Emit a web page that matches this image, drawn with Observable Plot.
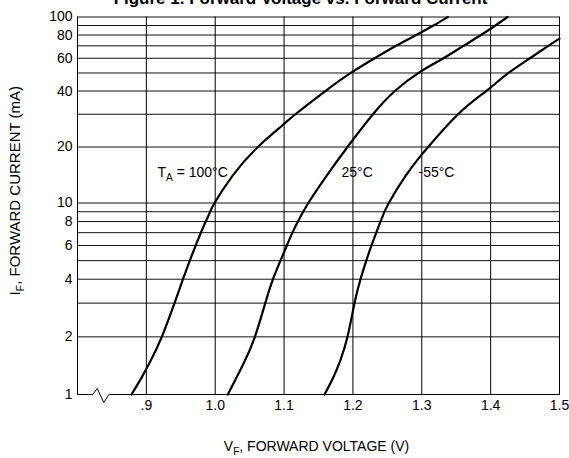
<!DOCTYPE html>
<html>
<head>
<meta charset="utf-8">
<script src="https://cdn.jsdelivr.net/npm/d3@7"></script>
<script src="https://cdn.jsdelivr.net/npm/@observablehq/plot@0.6"></script>
<style>
  html, body { margin: 0; padding: 0; background: #fff; }
  #chart { width: 569px; height: 458px; overflow: hidden; }
</style>
</head>
<body>
<div id="chart"></div>
<script>
const FONT = '"Liberation Sans", Arial, sans-serif';

// Axis ticks / labels
const xTicks = [0.9, 1.0, 1.1, 1.2, 1.3, 1.4, 1.5];
const xTickLabels = [".9", "1.0", "1.1", "1.2", "1.3", "1.4", "1.5"];
const yGrid = [2, 3, 4, 5, 6, 7, 8, 9, 10, 20, 30, 40, 50, 60, 70, 80, 90, 100];
const yTicks = [1, 2, 4, 6, 8, 10, 20, 40, 60, 80, 100];

// Series: forward current (mA) and forward voltage (V)
const i100 = [1, 1.2, 1.5, 2, 3, 4, 5, 6, 7, 8, 9, 10, 14, 20, 26.1, 30, 40, 50.5, 60, 70, 81, 90, 100];
const v100 = [0.8784, 0.8916, 0.9062, 0.9224, 0.9409, 0.9532, 0.9631, 0.9717, 0.9792, 0.9862, 0.9927, 0.9990, 1.0251, 1.0618, 1.0973, 1.1164, 1.1600, 1.1986, 1.2316, 1.2627, 1.2945, 1.3170, 1.3378];

const i25 = [1, 1.2, 1.5, 2, 3, 4, 5, 6, 7, 8, 10, 14, 20, 30, 40, 50.5, 60, 70, 80, 90, 100];
const v25 = [1.0183, 1.0297, 1.0431, 1.0576, 1.0727, 1.0839, 1.0948, 1.1041, 1.1122, 1.1201, 1.1352, 1.1617, 1.1921, 1.2291, 1.2609, 1.2970, 1.3315, 1.3606, 1.3860, 1.4070, 1.4245];

const iM55 = [1, 1.2, 1.5, 2, 3, 4, 5, 6, 8, 10, 14, 17.6, 20, 30, 40, 50, 60, 70, 76.5];
const vM55 = [1.1587, 1.1702, 1.1815, 1.1921, 1.2023, 1.2110, 1.2194, 1.2270, 1.2400, 1.2521, 1.2765, 1.2967, 1.3092, 1.3527, 1.3935, 1.4259, 1.4570, 1.4837, 1.5000];

const seriesNames = ["T_A = 100°C", "25°C", "-55°C"];
const labelV = [0.9162, 1.1834, 1.2952];
const labelI = [14.6, 14.6, 14.6];

// bottom frame with axis-break symbol
const breakV = [0.8, 0.8222, 0.8286, 0.8382, 0.8455, 1.5];
const breakI = [1, 1, 1.075, 0.907, 1, 1];

const xLabel = "V_F, FORWARD VOLTAGE (V)";
const yLabel = "I_F, FORWARD CURRENT (mA)";
const title = "Figure 1. Forward Voltage vs. Forward Current";

const toRows = (vs, is, name) => vs.map((v, k) => ({v, i: is[k], name}));
const curves = [
  ...toRows(v100, i100, seriesNames[0]),
  ...toRows(v25, i25, seriesNames[1]),
  ...toRows(vM55, iM55, seriesNames[2])
];
const labels = seriesNames.map((name, k) => ({name, v: labelV[k], i: labelI[k]}));
const breakLine = breakV.map((v, k) => ({v, i: breakI[k]}));

const plot = Plot.plot({
  width: 569,
  height: 458,
  marginLeft: 77,
  marginRight: 10,
  marginTop: 16.5,
  marginBottom: 64,
  style: {fontFamily: FONT, fontSize: "14px", color: "#000", background: "#fff", overflow: "hidden"},
  x: {domain: [0.8, 1.5], axis: null},
  y: {type: "log", domain: [1, 10, 100], range: [394, 202.5, 16.5], axis: null},
  marks: [
    Plot.ruleY(yGrid, {stroke: "#111", strokeWidth: 1}),
    Plot.ruleX(xTicks, {stroke: "#000", strokeWidth: 1}),
    Plot.ruleX([0.8], {stroke: "#000", strokeWidth: 1}),
    Plot.line(breakLine, {x: "v", y: "i", stroke: "#000", strokeWidth: 1, clip: false}),
    Plot.line(curves, {x: "v", y: "i", z: "name", stroke: "#000", strokeWidth: 2.2, curve: "natural"}),
    Plot.text(labels, {x: "v", y: "i", text: "name", textAnchor: "start", fontSize: 14, fill: "#000"}),
    Plot.text(xTicks, {x: d => d, frameAnchor: "bottom", lineAnchor: "top", dy: 6, text: d => xTickLabels[xTicks.indexOf(d)], fontSize: 14, fill: "#000"}),
    Plot.text(yTicks, {y: d => d, frameAnchor: "left", textAnchor: "end", dx: -5, text: d => String(d), fontSize: 14, fill: "#000"}),
    Plot.text([xLabel], {text: d => d, frameAnchor: "bottom", lineAnchor: "top", textAnchor: "middle", dy: 47, dx: -2, fontSize: 14, fill: "#000"}),
    Plot.text([yLabel], {text: d => d, frameAnchor: "left", textAnchor: "middle", lineAnchor: "middle", rotate: -90, dx: -62, dy: -15, fontSize: 15, fill: "#000"}),
    Plot.text([title], {text: d => d, frameAnchor: "top", lineAnchor: "top", textAnchor: "middle", dx: -18, dy: -25, fontSize: 17, fontWeight: "bold", fill: "#000"})
  ]
});

// subscripts (T_A, I_F, V_F)
d3.select(plot).selectAll("text").each(function () {
  const t = this.textContent;
  const m = t.match(/^(.*?)_([A-Z])(.*)$/);
  if (!m) return;
  const sel = d3.select(this);
  sel.text(null);
  sel.append("tspan").text(m[1]);
  sel.append("tspan").attr("font-size", "0.72em").attr("dy", "4").text(m[2]);
  sel.append("tspan").attr("dy", "-4").text(m[3]);
});

document.getElementById("chart").appendChild(plot);
</script>
</body>
</html>
